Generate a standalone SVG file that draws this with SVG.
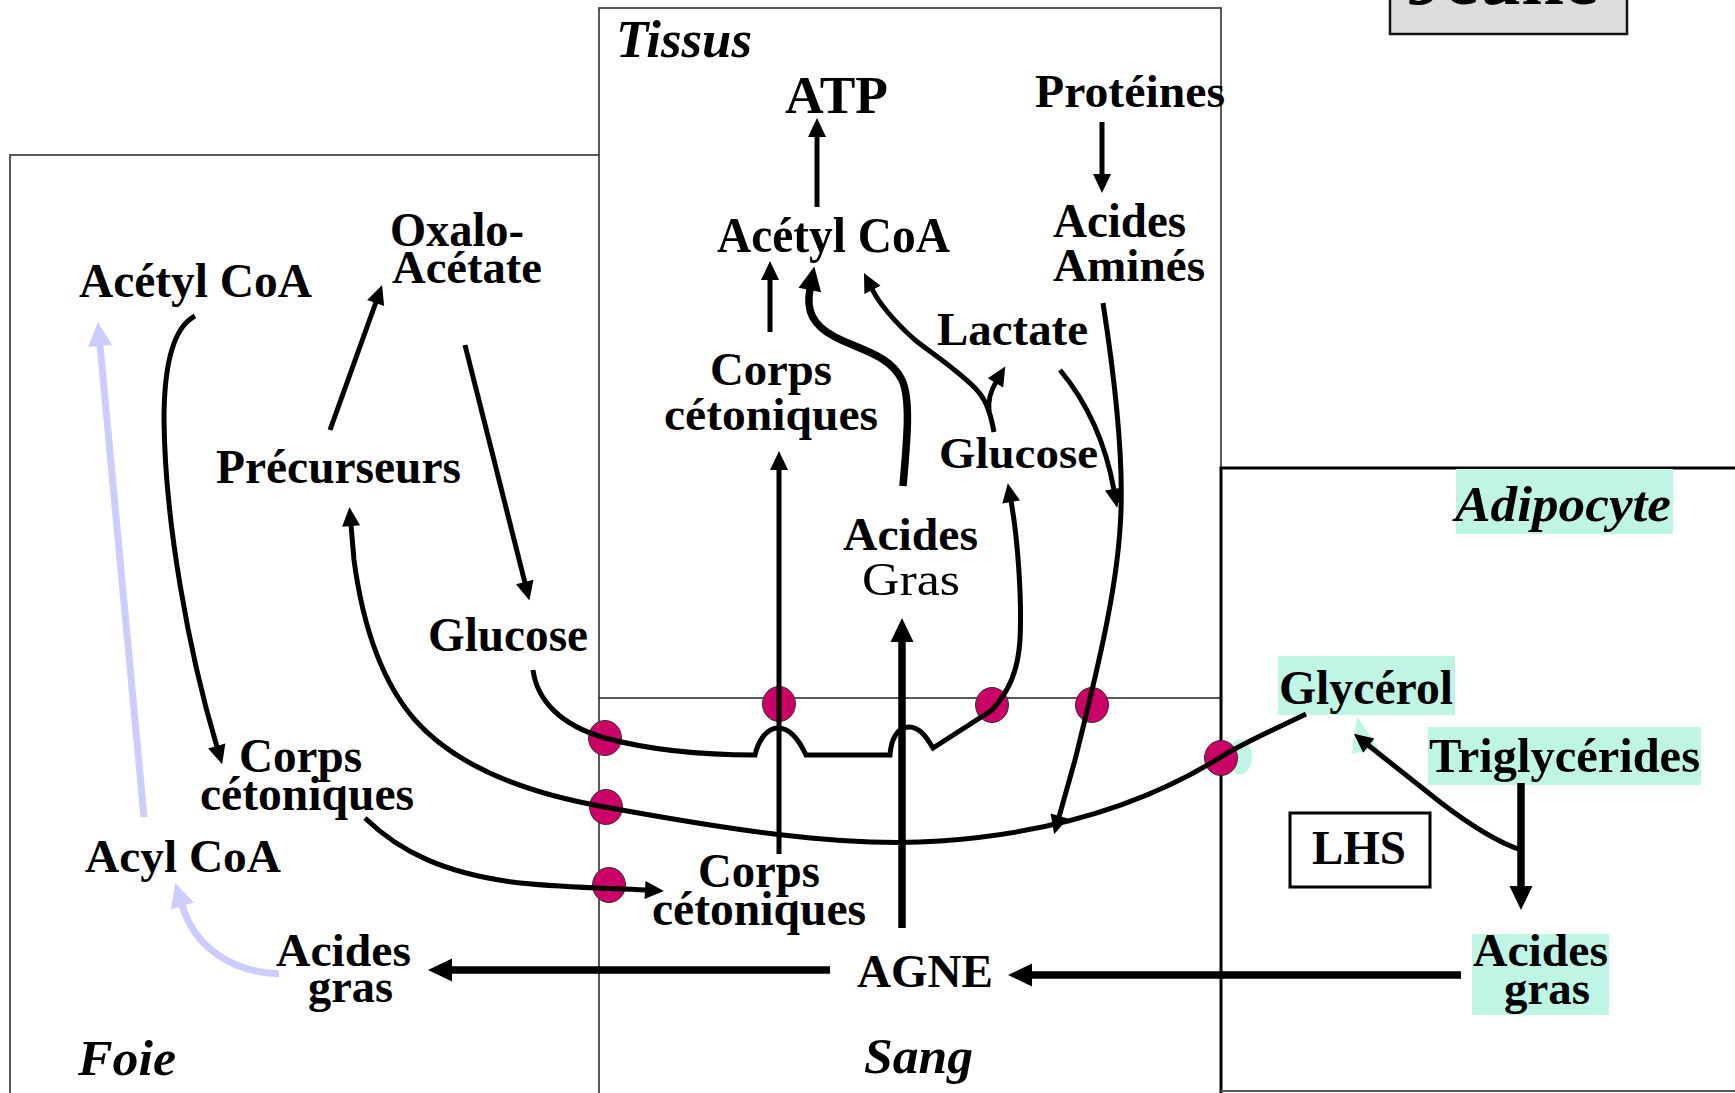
<svg xmlns="http://www.w3.org/2000/svg" width="1735" height="1093" viewBox="0 0 1735 1093">
<style>
text{font-family:"Liberation Serif","Times New Roman",serif;font-weight:bold;fill:#000}
.it{font-style:italic}
.rg{font-weight:normal}
.panel{fill:none;stroke:#222;stroke-width:1.5}
.c{fill:none;stroke:#000;stroke-width:5}
.ct{fill:none;stroke:#000;stroke-width:7.5}
.cb{fill:none;stroke:#ccccff;stroke-width:7}
.dot{fill:#cc0066;stroke:#333;stroke-width:1}
.mint{fill:#bff5e5}
</style>
<defs>
<marker id="as" markerUnits="userSpaceOnUse" markerWidth="22" markerHeight="20" refX="1" refY="9" orient="auto" overflow="visible"><path d="M0,0 L19,9 L0,18 z" fill="#000"/></marker>
<marker id="al" markerUnits="userSpaceOnUse" markerWidth="26" markerHeight="24" refX="1" refY="11.5" orient="auto" overflow="visible"><path d="M0,0 L24,11.5 L0,23 z" fill="#000"/></marker>
<marker id="ab" markerUnits="userSpaceOnUse" markerWidth="26" markerHeight="24" refX="1" refY="12" orient="auto" overflow="visible"><path d="M0,0 L24,12 L0,24 z" fill="#ccccff"/></marker>
</defs>
<rect width="1735" height="1093" fill="#fff"/>

<g id="panels">
<path class="panel" d="M10,1093 V155 H599"/>
<path class="panel" d="M599,1093 V8 H1221 V698"/>
<path class="panel" d="M599,698 H1221"/>
<path d="M1735,468 H1221 V1093" fill="none" stroke="#000" stroke-width="3"/>
<path d="M1221,1091 H1735" fill="none" stroke="#555" stroke-width="2"/>
</g>

<g id="title-box">
<rect x="1390" y="-6" width="237" height="40" fill="#dcdcdc" stroke="#111" stroke-width="2.5"/>
<text x="1406" y="4" font-size="76" textLength="192" lengthAdjust="spacingAndGlyphs">Jeûne</text>
</g>

<g id="highlights">
<rect class="mint" x="1456" y="469" width="217" height="65"/>
<rect class="mint" x="1278" y="656" width="177" height="59"/>
<rect class="mint" x="1428" y="727" width="273" height="58"/>
<rect class="mint" x="1472" y="934" width="137" height="81"/>
<ellipse class="mint" cx="1240" cy="757" rx="12" ry="17.5"/>
<polygon class="mint" points="1357,716 1378,748 1352,754"/>
</g>

<g id="dots">
<ellipse class="dot" cx="605" cy="738" rx="16.5" ry="17.5"/>
<ellipse class="dot" cx="606" cy="807" rx="16.5" ry="17.5"/>
<ellipse class="dot" cx="609" cy="885" rx="16.5" ry="17.5"/>
<ellipse class="dot" cx="779" cy="704" rx="16.5" ry="17.5"/>
<ellipse class="dot" cx="992" cy="705" rx="16.5" ry="17.5"/>
<ellipse class="dot" cx="1092" cy="705" rx="16.5" ry="17.5"/>
<ellipse class="dot" cx="1221" cy="758" rx="16.5" ry="17.5"/>
</g>

<g id="connectors">
<path class="c" d="M817,207 V136" marker-end="url(#as)"/>
<path class="c" d="M1102,122 V175" marker-end="url(#as)"/>
<path class="c" d="M770,332 V279" marker-end="url(#as)"/>
<path class="ct" d="M903,486 C907,440 911,400 902,380 C890,355 860,350 835,337 C812,325 806,310 810,289" marker-end="url(#al)"/>
<path class="c" d="M994,432 C990,410 985,398 975,388 C955,368 930,352 915,340 C895,322 880,305 872,289" marker-end="url(#as)"/>
<path class="c" d="M989,412 C988,400 990,392 996,382" marker-end="url(#as)"/>
<path class="c" d="M1103,303 C1115,380 1123,450 1121,510 C1119,580 1100,660 1075,760 L1059,817" marker-end="url(#as)"/>
<path class="c" d="M1060,370 C1085,400 1105,440 1114,490" marker-end="url(#as)"/>
<path class="c" d="M533,670 C537,700 560,725 605,738 C650,750 700,755 755,755 C758,742 766,728 778,728 C791,728 800,742 806,755 L890,755 C891,740 897,727 909,727 C920,727 927,738 933,748 L992,710 C1010,690 1018,670 1020,640 C1022,600 1018,540 1011,501" marker-end="url(#as)"/>
<path class="c" d="M1306,714 L1260,736 C1240,746 1228,752 1221,757 C1160,795 1070,832 940,841 C840,848 720,828 605,807 C520,792 455,765 415,720 C380,680 362,620 354,560 L351,525" marker-end="url(#as)"/>
<path class="c" d="M195,316 C172,328 164,370 164,420 C165,520 188,650 217,747" marker-end="url(#as)"/>
<path class="c" d="M365,818 C400,852 445,874 520,883 C570,888 610,888 646,890" marker-end="url(#as)"/>
<path class="c" d="M465,345 L525,583" marker-end="url(#as)"/>
<path class="c" d="M330,430 L376,302" marker-end="url(#as)"/>
<path class="cb" d="M144,817 L100,345" marker-end="url(#ab)"/>
<path class="cb" d="M279,974 C232,972 195,948 182,905" marker-end="url(#ab)"/>
<path class="ct" d="M830,970 L451,970" marker-end="url(#al)"/>
<path class="ct" d="M1461,975 L1031,975" marker-end="url(#al)"/>
<path class="ct" d="M1521,783 L1521,887" marker-end="url(#al)"/>
<path class="c" d="M1521,850 C1500,843 1470,825 1440,802 L1368,745" marker-end="url(#as)"/>
<path class="ct" d="M902,928 L902,641" marker-end="url(#al)"/>
<path class="c" d="M779,854 L779,469" marker-end="url(#as)"/>
</g>

<g id="lhs-box">
<rect x="1290" y="813" width="140" height="74" fill="none" stroke="#000" stroke-width="3"/>
<text x="1312" y="864" font-size="48" textLength="94" lengthAdjust="spacingAndGlyphs">LHS</text>
</g>

<g id="labels-tissus">
<text class="it" x="616" y="57" font-size="52" textLength="136" lengthAdjust="spacingAndGlyphs">Tissus</text>
<text x="785" y="113" font-size="53" textLength="103" lengthAdjust="spacingAndGlyphs">ATP</text>
<text x="1035" y="107" font-size="47" textLength="190" lengthAdjust="spacingAndGlyphs">Protéines</text>
<text x="717" y="252" font-size="50" textLength="233" lengthAdjust="spacingAndGlyphs">Acétyl CoA</text>
<text x="1053" y="237" font-size="48" textLength="133" lengthAdjust="spacingAndGlyphs">Acides</text>
<text x="1053" y="281" font-size="47" textLength="152" lengthAdjust="spacingAndGlyphs">Aminés</text>
<text x="937" y="345" font-size="46" textLength="151" lengthAdjust="spacingAndGlyphs">Lactate</text>
<text x="710" y="385" font-size="47" textLength="122" lengthAdjust="spacingAndGlyphs">Corps</text>
<text x="664" y="430" font-size="47" textLength="214" lengthAdjust="spacingAndGlyphs">cétoniques</text>
<text x="939" y="468" font-size="45" textLength="159" lengthAdjust="spacingAndGlyphs">Glucose</text>
<text x="843" y="550" font-size="47" textLength="135" lengthAdjust="spacingAndGlyphs">Acides</text>
<text class="rg" x="862" y="595" font-size="47" textLength="98" lengthAdjust="spacingAndGlyphs">Gras</text>
</g>

<g id="labels-foie">
<text x="79" y="297" font-size="48" textLength="233" lengthAdjust="spacingAndGlyphs">Acétyl CoA</text>
<text x="390" y="246" font-size="48" textLength="134" lengthAdjust="spacingAndGlyphs">Oxalo-</text>
<text x="392" y="283" font-size="47" textLength="150" lengthAdjust="spacingAndGlyphs">Acétate</text>
<text x="216" y="483" font-size="48" textLength="245" lengthAdjust="spacingAndGlyphs">Précurseurs</text>
<text x="428" y="651" font-size="48" textLength="160" lengthAdjust="spacingAndGlyphs">Glucose</text>
<text x="239" y="772" font-size="48" textLength="123" lengthAdjust="spacingAndGlyphs">Corps</text>
<text x="200" y="810" font-size="48" textLength="214" lengthAdjust="spacingAndGlyphs">cétoniques</text>
<text x="85" y="872" font-size="47" textLength="196" lengthAdjust="spacingAndGlyphs">Acyl CoA</text>
<text x="276" y="966" font-size="47" textLength="135" lengthAdjust="spacingAndGlyphs">Acides</text>
<text x="308" y="1002" font-size="47" textLength="85" lengthAdjust="spacingAndGlyphs">gras</text>
<text class="it" x="78" y="1075" font-size="51" textLength="98" lengthAdjust="spacingAndGlyphs">Foie</text>
</g>

<g id="labels-sang">
<text x="698" y="887" font-size="48" textLength="122" lengthAdjust="spacingAndGlyphs">Corps</text>
<text x="652" y="925" font-size="48" textLength="214" lengthAdjust="spacingAndGlyphs">cétoniques</text>
<text x="857" y="987" font-size="47" textLength="136" lengthAdjust="spacingAndGlyphs">AGNE</text>
<text class="it" x="864" y="1073" font-size="51" textLength="109" lengthAdjust="spacingAndGlyphs">Sang</text>
</g>

<g id="labels-adipocyte">
<text class="it" x="1455" y="521" font-size="50" textLength="216" lengthAdjust="spacingAndGlyphs">Adipocyte</text>
<text x="1279" y="704" font-size="48" textLength="174" lengthAdjust="spacingAndGlyphs">Glycérol</text>
<text x="1429" y="772" font-size="48" textLength="271" lengthAdjust="spacingAndGlyphs">Triglycérides</text>
<text x="1473" y="966" font-size="47" textLength="135" lengthAdjust="spacingAndGlyphs">Acides</text>
<text x="1504" y="1004" font-size="47" textLength="86" lengthAdjust="spacingAndGlyphs">gras</text>
</g>
</svg>
